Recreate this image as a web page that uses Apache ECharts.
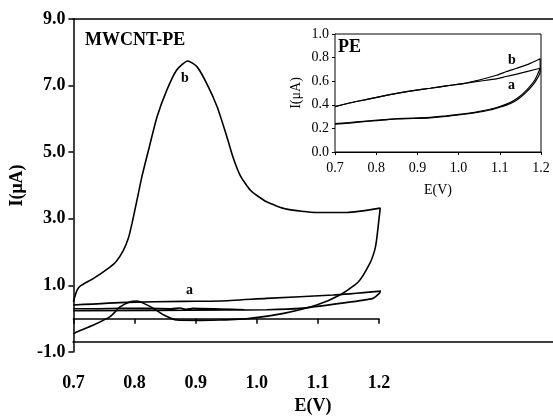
<!DOCTYPE html>
<html>
<head>
<meta charset="utf-8">
<script src="https://cdn.jsdelivr.net/npm/echarts@6/dist/echarts.min.js"></script>
<style>
html, body { margin: 0; padding: 0; background: #fff; }
#chart { width: 553px; height: 420px; }
</style>
</head>
<body>
<div id="chart"></div>
<script>
var SERIF = '"Liberation Serif", "DejaVu Serif", serif';

// main plot, curve b (MWCNT-PE), forward scan
var bFwdE = [0.700, 0.703, 0.706, 0.711, 0.733, 0.757, 0.770, 0.782, 0.790, 0.796, 0.804, 0.812, 0.823, 0.837, 0.853, 0.869, 0.887, 0.902, 0.918, 0.935, 0.951, 0.962, 0.973, 0.990, 1.016, 1.049, 1.098, 1.147, 1.202];
var bFwdI = [0.50, 0.70, 0.86, 0.98, 1.21, 1.51, 1.72, 2.06, 2.42, 2.87, 3.56, 4.26, 5.07, 6.07, 6.87, 7.47, 7.74, 7.57, 7.07, 6.37, 5.47, 4.80, 4.30, 3.85, 3.51, 3.29, 3.19, 3.19, 3.32];
// curve b, reverse scan
var bRevE = [1.202, 1.196, 1.193, 1.185, 1.166, 1.136, 1.098, 1.044, 0.989, 0.940, 0.908, 0.869, 0.848, 0.831, 0.815, 0.804, 0.793, 0.777, 0.760, 0.733, 0.706, 0.700];
var bRevI = [3.32, 2.36, 2.06, 1.66, 1.10, 0.71, 0.41, 0.16, 0.01, -0.04, -0.05, -0.04, 0.11, 0.31, 0.46, 0.53, 0.51, 0.36, 0.06, -0.19, -0.39, -0.45];

// main plot, curve a
var aLowE = [0.700, 0.950, 1.016, 1.071, 1.136, 1.190, 1.204];
var aLowI = [0.24, 0.26, 0.27, 0.31, 0.46, 0.61, 0.83];
var aUpE = [1.204, 1.125, 1.016, 0.940, 0.880, 0.788, 0.700];
var aUpI = [0.83, 0.71, 0.61, 0.53, 0.52, 0.49, 0.41];
var aWavyE = [0.700, 0.740, 0.780, 0.820, 0.860, 0.875, 0.885, 0.895, 0.940, 0.980];
var aWavyI = [0.30, 0.30, 0.31, 0.31, 0.30, 0.32, 0.28, 0.31, 0.29, 0.27];

// inset (PE)
var inLowE = [0.700, 0.735, 0.769, 0.810, 0.850, 0.890, 0.931, 0.970, 1.011, 1.045, 1.076, 1.100, 1.125, 1.145, 1.165, 1.185, 1.198];
var inLowBI = [0.235, 0.245, 0.257, 0.268, 0.280, 0.284, 0.290, 0.302, 0.320, 0.336, 0.356, 0.380, 0.410, 0.450, 0.510, 0.590, 0.680];
var inLowAI = [0.240, 0.250, 0.260, 0.272, 0.282, 0.288, 0.294, 0.306, 0.323, 0.340, 0.362, 0.386, 0.420, 0.462, 0.525, 0.610, 0.710];
var inUpE = [1.198, 1.170, 1.141, 1.115, 1.092, 1.050, 1.011, 0.970, 0.931, 0.890, 0.850, 0.810, 0.769, 0.735, 0.700];
var inUpBI = [0.790, 0.745, 0.710, 0.680, 0.650, 0.610, 0.580, 0.560, 0.540, 0.520, 0.497, 0.470, 0.440, 0.415, 0.384];
var inUpAI = [0.710, 0.685, 0.660, 0.640, 0.620, 0.600, 0.580, 0.560, 0.540, 0.520, 0.497, 0.470, 0.440, 0.415, 0.384];

function pairs(xs, ys){
	var out = [];
	for(var i = 0; i < xs.length; i++){
		out.push([xs[i], ys[i]]);
	}
	return out;
}
function join(){
	var out = [];
	for(var i = 0; i < arguments.length; i++){
		if(i > 0){
			out.push(null);
		}
		out = out.concat(arguments[i]);
	}
	return out;
}

var lineSeries = function(name, data, xi, yi, width){
	return {
		name : name,
		type : 'line',
		xAxisIndex : xi,
		yAxisIndex : yi,
		data : data,
		showSymbol : false,
		connectNulls : false,
		smooth : 0.2,
		lineStyle : { color : '#000', width : width },
		silent : true,
		z : 5
	};
};

var boldLabel = { color : '#000', fontFamily : SERIF, fontWeight : 'bold', fontSize : 18 };

var chart = echarts.init(document.getElementById('chart'), null, { renderer : 'canvas' });
var option = {
	animation : false,
	grid : [
		{ left : 73, top : 19, width : 306, height : 333 },
		{ left : 73, top : 19, right : 0, height : 333 },
		{ left : 335, top : 34, width : 206, height : 118, show : true, borderColor : '#000', borderWidth : 1, backgroundColor : '#fff', z : 3 }
	],
	xAxis : [
		{
			gridIndex : 0, type : 'value', min : 0.7, max : 1.2, interval : 0.1,
			axisLine : { lineStyle : { color : '#000', width : 1.5 } },
			axisTick : { show : true, length : 5, lineStyle : { color : '#000', width : 1.5 } },
			axisLabel : Object.assign({ margin : 22, formatter : function(v){ return v.toFixed(1); } }, boldLabel),
			splitLine : { show : false }
		},
		{
			gridIndex : 1, type : 'value', min : 0, max : 1, position : 'bottom',
			axisLine : { lineStyle : { color : '#000', width : 1.5 } },
			axisTick : { show : false }, axisLabel : { show : false }, splitLine : { show : false },
			name : 'E(V)', nameLocation : 'middle', nameGap : 55,
			nameTextStyle : { color : '#000', fontFamily : SERIF, fontWeight : 'bold', fontSize : 18 }
		},
		{
			gridIndex : 1, type : 'value', min : 0, max : 1, position : 'top',
			axisLine : { lineStyle : { color : '#000', width : 1.5 } },
			axisTick : { show : false }, axisLabel : { show : false }, splitLine : { show : false }
		},
		{
			gridIndex : 2, type : 'value', min : 0.7, max : 1.2, interval : 0.1,
			axisLine : { lineStyle : { color : '#000', width : 1 } },
			axisTick : { show : true, length : 3, lineStyle : { color : '#000' } },
			axisLabel : { margin : 9, color : '#000', fontFamily : SERIF, fontSize : 14, formatter : function(v){ return v.toFixed(1); } },
			splitLine : { show : false },
			name : 'E(V)', nameLocation : 'middle', nameGap : 31,
			nameTextStyle : { color : '#000', fontFamily : SERIF, fontSize : 14 }
		}
	],
	yAxis : [
		{
			gridIndex : 0, type : 'value', min : -1, max : 9, interval : 2,
			axisLine : { show : true, lineStyle : { color : '#000', width : 1.5 } },
			axisTick : { show : true, length : 5, lineStyle : { color : '#000', width : 1.5 } },
			axisLabel : Object.assign({ margin : 8, formatter : function(v){ return v.toFixed(1); } }, boldLabel),
			splitLine : { show : false },
			name : 'I(μA)', nameLocation : 'middle', nameGap : 43, nameRotate : 90,
			nameTextStyle : { color : '#000', fontFamily : SERIF, fontWeight : 'bold', fontSize : 18 }
		},
		{ gridIndex : 1, type : 'value', show : false, min : 0, max : 1 },
		{
			gridIndex : 2, type : 'value', min : 0, max : 1, interval : 0.2,
			axisLine : { show : true, lineStyle : { color : '#000', width : 1 } },
			axisTick : { show : true, length : 3, lineStyle : { color : '#000' } },
			axisLabel : { margin : 6, color : '#000', fontFamily : SERIF, fontSize : 14, formatter : function(v){ return v.toFixed(1); } },
			splitLine : { show : false },
			name : 'I(μA)', nameLocation : 'middle', nameGap : 32, nameRotate : 90,
			nameTextStyle : { color : '#000', fontFamily : SERIF, fontSize : 14 }
		}
	],
	series : [
		lineSeries('b', pairs(bFwdE, bFwdI).concat(pairs(bRevE, bRevI).slice(1)), 0, 0, 1.6),
		lineSeries('a', join(pairs(aLowE, aLowI).concat(pairs(aUpE, aUpI).slice(1)), pairs(aWavyE, aWavyI)), 0, 0, 1.6),
		lineSeries('PE b', pairs(inLowE, inLowBI).concat(pairs(inUpE, inUpBI)), 3, 2, 1.2),
		lineSeries('PE a', pairs(inLowE, inLowAI).concat(pairs(inUpE, inUpAI)), 3, 2, 1.2)
	],
	graphic : [
		{ type : 'text', left : 85, top : 31, z : 10, style : { text : 'MWCNT-PE', font : 'bold 18px ' + SERIF, fill : '#000' } },
		{ type : 'text', left : 181, top : 71, z : 10, style : { text : 'b', font : 'bold 14px ' + SERIF, fill : '#000' } },
		{ type : 'text', left : 186, top : 283, z : 10, style : { text : 'a', font : 'bold 14px ' + SERIF, fill : '#000' } },
		{ type : 'text', left : 338, top : 38, z : 10, style : { text : 'PE', font : 'bold 18px ' + SERIF, fill : '#000' } },
		{ type : 'text', left : 508, top : 53, z : 10, style : { text : 'b', font : 'bold 14px ' + SERIF, fill : '#000' } },
		{ type : 'text', left : 508, top : 78, z : 10, style : { text : 'a', font : 'bold 14px ' + SERIF, fill : '#000' } }
	]
};
chart.setOption(option);
</script>
</body>
</html>
